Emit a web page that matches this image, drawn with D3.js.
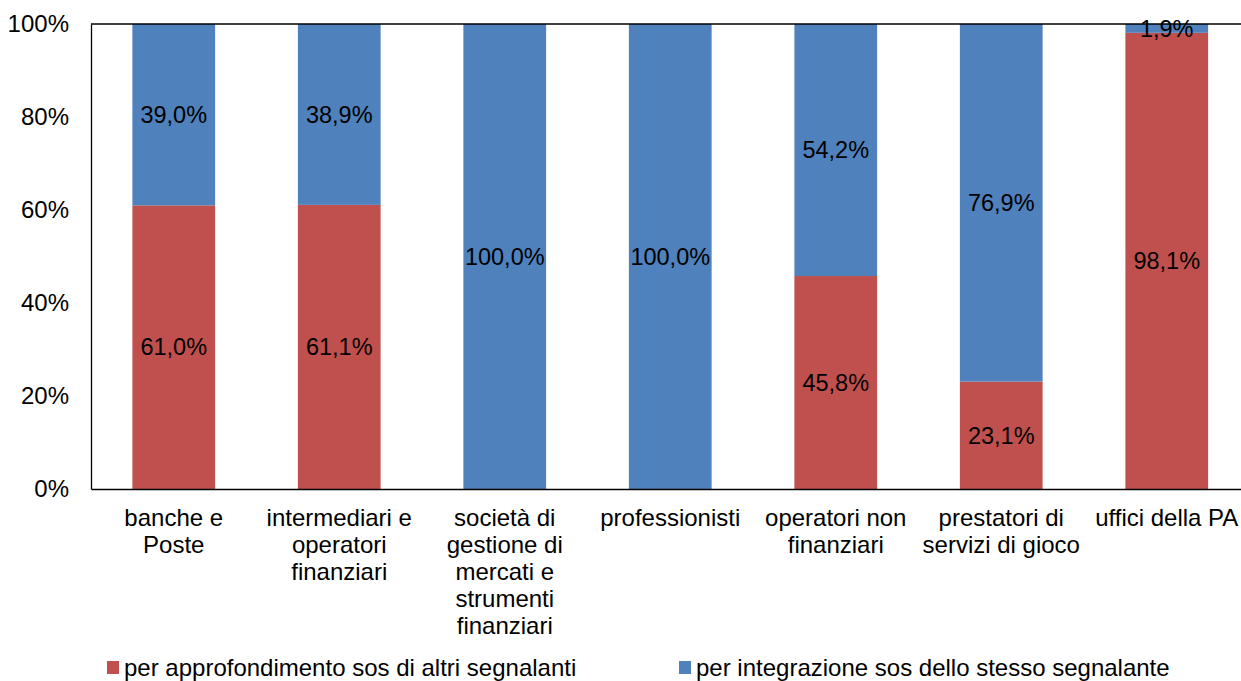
<!DOCTYPE html>
<html>
<head>
<meta charset="utf-8">
<script src="https://cdn.jsdelivr.net/npm/d3@7"></script>
<style>
  body { margin: 0; background: #fff; }
  text { font-family: "Liberation Sans", Arial, sans-serif; }
</style>
</head>
<body>
<script>
// categorie (etichette su piu' righe)
var categories = [
  ["banche e", "Poste"],
  ["intermediari e", "operatori", "finanziari"],
  ["società di", "gestione di", "mercati e", "strumenti", "finanziari"],
  ["professionisti"],
  ["operatori non", "finanziari"],
  ["prestatori di", "servizi di gioco"],
  ["uffici della PA"]
];
var approfondimento = [61.0, 61.1, 0, 0, 45.8, 23.1, 98.1];
var integrazione = [39.0, 38.9, 100.0, 100.0, 54.2, 76.9, 1.9];
var seriesNames = ["per approfondimento sos di altri segnalanti", "per integrazione sos dello stesso segnalante"];
var yTicks = [0, 20, 40, 60, 80, 100];

var width = 1241, height = 681;
var margin = {top: 24, left: 91, bottom: 192};
var plotW = 7 * 165.5;
var fs = "24px";

var svg = d3.select("body").append("svg")
    .attr("width", width)
    .attr("height", height);

var x = d3.scaleBand()
    .domain(d3.range(categories.length))
    .range([margin.left, margin.left + plotW])
    .paddingInner(0.5)
    .paddingOuter(0.25);

var y = d3.scaleLinear()
    .domain([0, 100])
    .range([height - margin.bottom, margin.top]);

var colors = ["#C0504D", "#4F81BD"];

var rows = categories.map(function(c, i) {
  return {i: i, a: approfondimento[i], b: integrazione[i]};
});
var stack = d3.stack().keys(["a", "b"])(rows);

var layers = svg.selectAll("g.layer")
  .data(stack)
  .enter().append("g")
    .attr("class", "layer")
    .attr("fill", function(d, k) { return colors[k]; });

layers.selectAll("rect")
  .data(function(d) { return d; })
  .enter().append("rect")
    .attr("x", function(d) { return x(d.data.i); })
    .attr("width", x.bandwidth())
    .attr("y", function(d) { return y(d[1]); })
    .attr("height", function(d) { return y(d[0]) - y(d[1]); });

// etichette dei valori
layers.selectAll("text")
  .data(function(d) { return d.filter(function(p) { return p[1] - p[0] > 0; }); })
  .enter().append("text")
    .attr("x", function(d) { return x(d.data.i) + x.bandwidth() / 2; })
    .attr("y", function(d) { return (y(d[0]) + y(d[1])) / 2; })
    .attr("dy", "0.35em")
    .attr("text-anchor", "middle")
    .attr("fill", "#000")
    .style("font-size", "23.5px")
    .text(function(d) { return (d[1] - d[0]).toFixed(1).replace(".", ",") + "%"; });

// assi
svg.append("line")
    .attr("x1", margin.left).attr("x2", width)
    .attr("y1", y(100)).attr("y2", y(100))
    .attr("stroke", "#000").attr("stroke-width", 1.3);

var yAxis = svg.append("g")
    .attr("transform", "translate(" + margin.left + ",0)")
    .call(d3.axisLeft(y).tickValues(yTicks).tickSize(0).tickPadding(22)
      .tickFormat(function(d) { return d + "%"; }));
yAxis.select(".domain").attr("stroke", "#000").attr("stroke-width", 1.3);
yAxis.selectAll("text").style("font-size", fs).attr("fill", "#000")
    .style("font-family", "'Liberation Sans', Arial, sans-serif");

var xAxis = svg.append("g")
    .attr("transform", "translate(0," + y(0) + ")")
    .call(d3.axisBottom(x).tickSize(0).tickFormat(""));
xAxis.select(".domain").attr("stroke", "#000").attr("stroke-width", 1.3);

// etichette categorie
svg.selectAll("text.cat")
  .data(categories)
  .enter().append("text")
    .attr("class", "cat")
    .attr("text-anchor", "middle")
    .attr("y", y(0) + 37)
    .style("font-size", fs)
    .attr("fill", "#000")
  .each(function(lines, i) {
    var t = d3.select(this);
    lines.forEach(function(l, j) {
      t.append("tspan")
        .attr("x", x(i) + x.bandwidth() / 2)
        .attr("dy", j === 0 ? 0 : 27)
        .text(l);
    });
  });

// legenda
var legendX = [107, 679];
var legend = svg.selectAll("g.legend")
  .data(seriesNames)
  .enter().append("g")
    .attr("class", "legend")
    .attr("transform", function(d, k) { return "translate(" + legendX[k] + ",668)"; });
legend.append("rect")
    .attr("x", 0).attr("y", -7)
    .attr("width", 12).attr("height", 13)
    .attr("fill", function(d, k) { return colors[k]; });
legend.append("text")
    .attr("x", 17)
    .attr("dy", "0.35em")
    .style("font-size", fs)
    .attr("fill", "#000")
    .text(function(d) { return d; });
</script>
</body>
</html>
